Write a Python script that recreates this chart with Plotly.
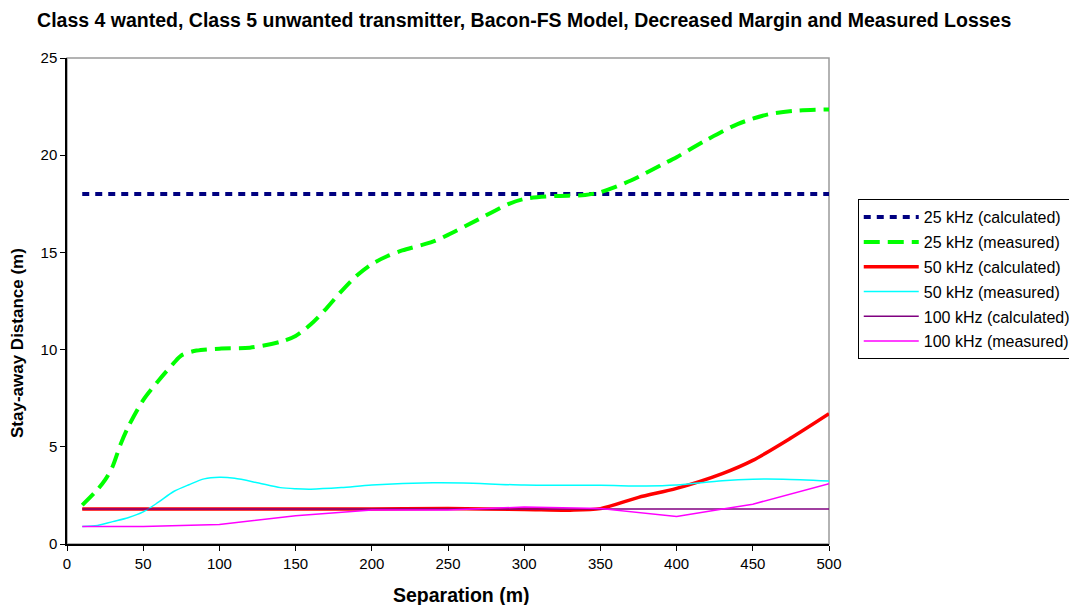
import plotly.graph_objects as go

# 25 kHz (calculated)
calc25_x = [10, 50, 100, 150, 200, 250, 300, 350, 400, 450, 500]
calc25_y = [18, 18, 18, 18, 18, 18, 18, 18, 18, 18, 18]

# 25 kHz (measured)
meas25_x = [10, 20, 25, 30, 35, 40, 50, 60, 70, 75, 85, 100, 120, 140, 150, 160,
            170, 180, 190, 200, 210, 220, 240, 250, 270, 290, 300, 320, 340, 350,
            370, 390, 400, 420, 440, 460, 480, 500]
meas25_y = [2.0, 2.8, 3.3, 4.0, 5.1, 6.0, 7.4, 8.4, 9.3, 9.7, 9.95, 10.05, 10.1,
            10.4, 10.7, 11.3, 12.1, 13.0, 13.8, 14.4, 14.8, 15.1, 15.55, 15.9,
            16.7, 17.5, 17.75, 17.9, 17.95, 18.1, 18.7, 19.5, 19.9, 20.8, 21.6,
            22.1, 22.3, 22.35]

# 50 kHz (calculated)
calc50_x = [10, 100, 200, 250, 300, 330, 350, 375, 400, 430, 450, 475, 500]
calc50_y = [1.8, 1.8, 1.8, 1.82, 1.78, 1.74, 1.82, 2.4, 2.86, 3.62, 4.3, 5.45, 6.7]

# 50 kHz (measured)
meas50_x = [10, 20, 30, 40, 50, 60, 70, 80, 90, 100, 110, 125, 140, 150, 160, 180,
            200, 240, 260, 300, 350, 380, 400, 430, 450, 470, 500]
meas50_y = [0.9, 0.95, 1.15, 1.35, 1.65, 2.15, 2.7, 3.05, 3.35, 3.43, 3.38, 3.15,
            2.9, 2.84, 2.82, 2.9, 3.03, 3.15, 3.14, 3.03, 3.02, 2.98, 3.03, 3.25,
            3.33, 3.33, 3.24]

# 100 kHz (calculated)
calc100_x = [10, 50, 100, 150, 200, 250, 300, 350, 400, 450, 500]
calc100_y = [1.8, 1.8, 1.8, 1.8, 1.8, 1.8, 1.8, 1.8, 1.8, 1.8, 1.8]

# 100 kHz (measured)
meas100_x = [10, 20, 50, 100, 150, 200, 250, 300, 350, 400, 450, 500]
meas100_y = [0.9, 0.9, 0.9, 1.0, 1.45, 1.75, 1.75, 1.9, 1.82, 1.42, 2.05, 3.1]

x_ticks = [0, 50, 100, 150, 200, 250, 300, 350, 400, 450, 500]
y_ticks = [0, 5, 10, 15, 20, 25]

fig = go.Figure()

series = [
    ('25 kHz (calculated)', calc25_x, calc25_y, '#000080', 4, '7px,6px', 'linear'),
    ('25 kHz (measured)', meas25_x, meas25_y, '#00FF00', 4, '16px,8px', 'spline'),
    ('50 kHz (calculated)', calc50_x, calc50_y, '#FF0000', 3.5, 'solid', 'spline'),
    ('50 kHz (measured)', meas50_x, meas50_y, '#00FFFF', 1.5, 'solid', 'spline'),
    ('100 kHz (calculated)', calc100_x, calc100_y, '#800080', 1.5, 'solid', 'linear'),
    ('100 kHz (measured)', meas100_x, meas100_y, '#FF00FF', 1.5, 'solid', 'linear'),
]

for name, xs, ys, color, width, dash, shape in series:
    fig.add_trace(go.Scatter(
        x=xs, y=ys, name=name, mode='lines', legendgroup=name,
        line=dict(color=color, width=width, dash=dash, shape=shape, smoothing=0.8)
    ))

# grey frame on the top and right of the plot area
fig.add_shape(type='rect', xref='paper', yref='paper', x0=0, y0=0, x1=1, y1=1,
              line=dict(color='#9a9a9a', width=1.5), layer='below')

# axis titles as annotations so they sit where the original puts them
fig.add_annotation(text='<b>Separation (m)</b>', xref='paper', yref='paper',
                   x=0.518, y=-0.105, xanchor='center', yanchor='middle',
                   showarrow=False, font=dict(size=19.5))
fig.add_annotation(text='<b>Stay-away Distance (m)</b>', xref='paper', yref='paper',
                   x=-0.064, y=0.414, xanchor='center', yanchor='middle',
                   textangle=-90, showarrow=False, font=dict(size=17))

# the page body adds an 8px offset, so margins are shifted by that much
fig.update_layout(
    width=1077, height=605,
    margin=dict(l=59, r=256, t=50, b=69),
    plot_bgcolor='white', paper_bgcolor='white',
    font=dict(family='Liberation Sans, Arial, sans-serif', size=15, color='black'),
    title=dict(
        text='<b>Class 4 wanted, Class 5 unwanted transmitter, Bacon-FS Model, Decreased Margin and Measured Losses</b>',
        xref='container', yref='container',
        x=0.027, xanchor='left', y=0.98, yanchor='middle',
        font=dict(size=19.5)
    ),
    legend=dict(
        xref='container', yref='container',
        x=0.789, y=0.684, xanchor='left', yanchor='top',
        bordercolor='black', borderwidth=1,
        font=dict(size=16), traceorder='grouped', tracegroupgap=1,
        itemwidth=55
    ),
    xaxis=dict(
        range=[0, 500], tickvals=x_ticks, showgrid=False, zeroline=False,
        showline=True, linecolor='black', linewidth=1.5, automargin=False,
        ticks='outside', ticklen=5, tickcolor='black'
    ),
    yaxis=dict(
        range=[0, 25], tickvals=y_ticks, showgrid=False, zeroline=False,
        showline=True, linecolor='black', linewidth=1.5, automargin=False,
        ticks='outside', ticklen=5, tickcolor='black'
    ),
)

fig.write_html("out.html")
